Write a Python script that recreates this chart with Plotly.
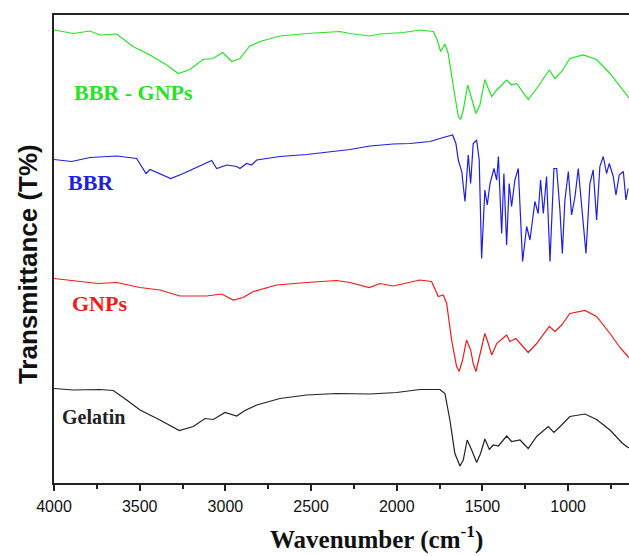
import plotly.graph_objects as go

# ---- data (wavenumber in cm-1, transmittance in arbitrary offset units) ----
wn_bbr_gnps = [4000, 3887, 3790, 3732, 3634, 3539, 3440, 3343, 3275, 3207, 3131, 3072, 3016, 2963, 2915,
               2857, 2798, 2682, 2526, 2331, 2273, 2161, 2098, 1962, 1865, 1787, 1764, 1744, 1719, 1700,
               1670, 1641, 1627, 1612, 1586, 1563, 1538, 1515, 1486, 1466, 1446, 1417, 1359, 1330, 1301,
               1233, 1184, 1110, 1077, 1038, 990, 912, 834, 756, 698, 659, 645]
t_bbr_gnps = [90.6, 89.9, 90.4, 89.6, 89.8, 87.3, 85.6, 83.6, 81.9, 82.7, 84.7, 84.9, 86.1, 84.3, 84.9,
              87.4, 88.3, 89.4, 89.9, 90.3, 89.9, 89.4, 89.8, 90.1, 90.6, 90.3, 88.6, 86.3, 87.8, 85.9,
              79.3, 73.3, 72.7, 74.6, 79.6, 76.6, 73.9, 75.6, 80.7, 78.9, 77.3, 78.6, 80.6, 79.6, 79.9,
              76.7, 78.9, 82.6, 80.9, 82.3, 84.9, 85.6, 84.7, 81.9, 79.3, 77.6, 77.0]

wn_bbr = [4000, 3897, 3790, 3634, 3518, 3488, 3463, 3440, 3411, 3319, 3246, 3129, 3080, 3051, 2992,
          2934, 2915, 2876, 2847, 2817, 2682, 2526, 2351, 2273, 2156, 2021, 1923, 1806, 1729, 1674,
          1655, 1641, 1621, 1602, 1583, 1569, 1554, 1534, 1519, 1505, 1486, 1472, 1456, 1433, 1417,
          1407, 1388, 1375, 1359, 1344, 1330, 1311, 1291, 1266, 1242, 1223, 1194, 1175, 1161, 1145,
          1126, 1106, 1083, 1067, 1048, 1034, 1019, 999, 980, 960, 941, 921, 896, 873, 854,
          834, 815, 795, 776, 760, 737, 721, 702, 678, 663, 650]
t_bbr = [64.7, 64.3, 65.1, 65.4, 64.9, 63.3, 61.9, 62.7, 62.3, 60.9, 61.9, 63.8, 64.5, 62.9, 63.6,
         63.3, 62.9, 63.9, 63.6, 64.6, 65.3, 65.7, 66.4, 66.7, 67.4, 67.8, 67.9, 68.3, 69.1, 69.6,
         67.9, 64.6, 62.3, 56.3, 65.6, 59.9, 67.9, 68.6, 64.6, 44.9, 58.6, 55.6, 59.9, 62.9, 60.6,
         65.3, 49.9, 61.9, 47.6, 59.9, 55.3, 60.6, 62.9, 44.3, 51.3, 48.6, 56.3, 53.9, 60.6, 53.9,
         61.3, 44.3, 62.9, 62.9, 54.6, 45.9, 56.6, 62.3, 53.6, 57.3, 62.9, 55.3, 45.9, 59.9, 62.6,
         52.6, 63.3, 65.3, 61.9, 63.9, 61.3, 57.6, 61.6, 62.3, 56.6, 58.9]

wn_gnps = [4000, 3887, 3742, 3634, 3498, 3382, 3265, 3109, 3022, 2954, 2896, 2837, 2701, 2526, 2351,
           2273, 2161, 2098, 2021, 1865, 1797, 1758, 1729, 1709, 1680, 1651, 1636, 1616, 1593, 1569,
           1554, 1538, 1519, 1486, 1466, 1446, 1417, 1359, 1340, 1305, 1233, 1184, 1110, 1077, 1038,
           990, 902, 834, 756, 698, 659, 645]
t_gnps = [40.9, 40.5, 39.9, 40.1, 39.1, 38.6, 37.4, 37.4, 37.8, 36.6, 37.1, 38.3, 39.6, 40.1, 40.5,
          40.1, 39.1, 39.9, 39.4, 40.6, 40.3, 37.3, 37.6, 35.9, 28.6, 23.3, 22.3, 24.6, 28.6, 26.6,
          23.9, 22.3, 25.3, 29.9, 27.9, 25.6, 27.9, 29.6, 28.3, 28.9, 26.1, 27.9, 31.3, 30.3, 31.6,
          33.9, 34.5, 33.3, 29.9, 27.1, 25.6, 25.0]

wn_gelatin = [4000, 3887, 3732, 3654, 3576, 3498, 3382, 3269, 3187, 3119, 3071, 3002, 2934, 2886, 2817,
              2682, 2526, 2351, 2156, 2001, 1865, 1748, 1719, 1690, 1661, 1631, 1612, 1589, 1563, 1534,
              1511, 1486, 1460, 1437, 1407, 1359, 1330, 1281, 1233, 1184, 1116, 1083, 1038, 990, 902,
              834, 756, 688, 659, 645]
t_gelatin = [18.9, 18.6, 18.7, 18.5, 16.6, 14.6, 12.6, 10.5, 11.3, 12.9, 12.7, 14.1, 13.4, 14.5, 15.6,
             16.9, 17.6, 17.9, 17.8, 18.1, 18.7, 18.7, 17.9, 12.6, 5.9, 3.4, 4.6, 8.6, 6.6, 4.1,
             5.9, 8.8, 6.7, 7.6, 7.4, 9.4, 8.3, 8.6, 6.9, 9.3, 11.3, 10.1, 11.6, 13.3, 13.8,
             12.7, 10.6, 8.1, 7.3, 7.0]

names = ["BBR - GNPs", "BBR", "GNPs", "Gelatin"]
colors = ["#22e622", "#1f1fe0", "#f01a1a", "#222222"]
label_x = [3895, 3930, 3907, 3965]
label_y = [78.2, 60.2, 36.0, 13.2]
label_size = [22, 22, 22, 20]

series = [(wn_bbr_gnps, t_bbr_gnps), (wn_bbr, t_bbr), (wn_gnps, t_gnps), (wn_gelatin, t_gelatin)]

fig = go.Figure()
for (wx, ty), name, col in zip(series, names, colors):
    fig.add_trace(go.Scatter(x=wx, y=ty, mode="lines", name=name,
                             line=dict(color=col, width=1.2), showlegend=False))

for name, col, lx, ly, ls in zip(names, colors, label_x, label_y, label_size):
    fig.add_annotation(x=lx, y=ly, xref="x", yref="y", text=f"<b>{name}</b>", showarrow=False,
                       xanchor="left", yanchor="middle",
                       font=dict(family="Liberation Serif, Times New Roman, serif", size=ls, color=col))

fig.add_annotation(x=-0.045, y=0.468, xref="paper", yref="paper", text="<b>Transmittance (T%)</b>",
                   showarrow=False, textangle=-90, xanchor="center", yanchor="middle",
                   font=dict(family="Liberation Sans, Arial, sans-serif", size=26, color="#111111"))
fig.add_annotation(x=0.5617, y=-0.117, xref="paper", yref="paper",
                   text="<b>Wavenumber (cm<sup>-1</sup>)</b>", showarrow=False,
                   xanchor="center", yanchor="middle",
                   font=dict(family="Liberation Serif, Times New Roman, serif", size=25, color="#111111"))

fig.update_layout(
    width=629, height=556,
    margin=dict(l=54, r=0, t=15, b=73),
    paper_bgcolor="white", plot_bgcolor="white",
    xaxis=dict(range=[4000, 645], showgrid=False, zeroline=False,
               showline=True, linecolor="#222222", linewidth=2, mirror=True,
               ticks="outside", ticklen=6, tickwidth=2, tickcolor="#222222",
               tick0=0, dtick=500, ticklabelstandoff=2,
               tickfont=dict(family="Liberation Sans, Arial, sans-serif", size=16, color="#111111"),
               minor=dict(dtick=250, ticks="outside", ticklen=4, tickwidth=2, tickcolor="#222222")),
    yaxis=dict(range=[0, 93.6], showgrid=False, zeroline=False, showticklabels=False,
               showline=True, linecolor="#222222", linewidth=2, ticks=""),
)

fig.write_html("out.html")
